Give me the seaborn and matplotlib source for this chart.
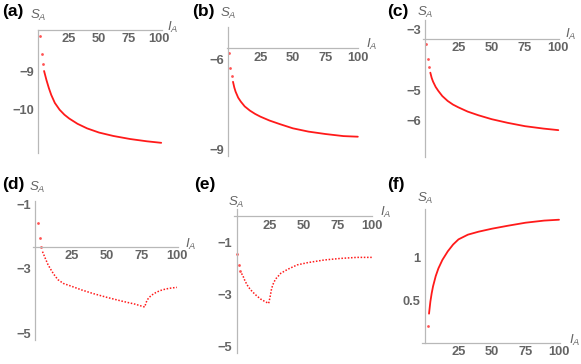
import matplotlib
matplotlib.use("Agg")
import matplotlib.pyplot as plt
import seaborn as sns

# ---------------- data ----------------
# (a)
a_dot_I = [1, 2, 3]
a_dot_S = [-8.07, -8.55, -8.82]
a_I = [4, 5, 6, 8, 10, 13, 17, 21, 25, 32, 40, 50, 62, 76, 90, 102]
a_S = [-9.00, -9.12, -9.24, -9.45, -9.63, -9.84, -10.02, -10.15, -10.25,
       -10.39, -10.51, -10.62, -10.71, -10.79, -10.85, -10.89]
# (b)
b_dot_I = [1, 2, 3]
b_dot_S = [-5.81, -6.29, -6.57]
b_I = [4, 5, 6, 8, 10, 13, 17, 21, 25, 32, 40, 50, 62, 75, 89, 100]
b_S = [-6.76, -6.95, -7.09, -7.29, -7.42, -7.58, -7.72, -7.83, -7.92,
       -8.05, -8.17, -8.31, -8.42, -8.50, -8.57, -8.59]
# (c)
c_dot_I = [1, 2, 3]
c_dot_S = [-3.50, -3.99, -4.25]
c_I = [4, 5, 6, 8, 10, 13, 17, 21, 25, 32, 40, 50, 62, 75, 89, 100]
c_S = [-4.43, -4.60, -4.72, -4.90, -5.03, -5.20, -5.36, -5.48, -5.57,
       -5.71, -5.83, -5.96, -6.08, -6.19, -6.27, -6.32]
# (d)
d_dot_I = [1, 2, 3]
d_dot_S = [-1.59, -2.06, -2.32]
d_I = [4, 6, 8, 10, 12, 15, 19, 25, 32, 40, 50, 60, 70, 77,
       78, 79, 80, 82, 85, 88, 92, 96, 100]
d_S = [-2.47, -2.68, -2.88, -3.03, -3.17, -3.34, -3.46, -3.55, -3.66, -3.77,
       -3.89, -4.00, -4.10, -4.19,
       -4.05, -3.96, -3.90, -3.82, -3.74, -3.68, -3.63, -3.60, -3.58]
# (e)
e_dot_I = [1, 2, 3]
e_dot_S = [-1.45, -1.87, -2.09]
e_I = [4, 5, 6, 8, 10, 12, 15, 18, 21, 24,
       25, 26, 27, 29, 33, 38, 45, 53, 65, 77, 89, 100]
e_S = [-2.20, -2.28, -2.42, -2.63, -2.78, -2.90, -3.05, -3.18, -3.27, -3.35,
       -3.12, -2.83, -2.64, -2.42, -2.19, -2.04, -1.87, -1.78, -1.68, -1.62,
       -1.58, -1.58]
# (f)
f_dot_I = [2]
f_dot_S = [0.19]
f_I = [3, 4, 5, 6, 8, 10, 13, 17, 21, 25, 32, 40, 50, 62, 75, 89, 100]
f_S = [0.34, 0.48, 0.58, 0.66, 0.78, 0.87, 0.97, 1.07, 1.15, 1.21, 1.265,
       1.30, 1.335, 1.37, 1.405, 1.43, 1.44]

x_ticks = [25, 50, 75, 100]
a_yticks = [-9, -10]
b_yticks = [-6, -9]
c_yticks = [-3, -5, -6]
d_yticks = [-1, -3, -5]
e_yticks = [-1, -3, -5]
f_yticks = [0.5, 1]
panel_tags = ["(a)", "(b)", "(c)", "(d)", "(e)", "(f)"]

# ---------------- style ----------------
sns.set_style("white")
plt.rcParams["font.family"] = ["Liberation Sans", "DejaVu Sans"]
plt.rcParams["mathtext.fontset"] = "custom"
plt.rcParams["mathtext.it"] = "Liberation Sans:italic"
plt.rcParams["mathtext.rm"] = "Liberation Sans"

W, H = 581, 364
fig = plt.figure(figsize=(W / 100, H / 100), dpi=100)

AXC = "#b8b8b8"
TXC = "#646464"
RED = "#ff1a1a"


def fmt(v):
    s = ("%g" % abs(v))
    return ("\u2212" + s) if v < 0 else s


# layout: (x0px, sx, yref, yref_px, sy, cross, ybot, ytop, xstart, xend,
#          yaxis_x, tag_xy, sa_xy, ia_xy, curve_style)
layout = [
    (39.3, 1.195, -9, 71.0, 38.0, -7.92, -11.16, -7.92, -1.5, 102.5, -0.8,
     (2, 11.5), (38.5, 15), (173, 27), "solid"),
    (227.8, 1.300, -6, 59.0, 30.0, -5.64, -9.23, -4.92, -1.0, 100.5, 0.4,
     (192, 11.5), (228.5, 13), (371.5, 44.5), "solid"),
    (425.0, 1.333, -5, 90.0, 30.4, -3.32, -7.19, -2.70, -1.5, 100.5, 0.0,
     (387, 11.5), (425, 12.5), (571, 34.5), "solid"),
    (36.9, 1.40, -1, 204.3, 32.2, -2.32, -5.21, -0.89, -2.5, 100.5, -1.4,
     (2, 185), (37.5, 187), (190.5, 244), "dots"),
    (236.1, 1.356, -1, 242.3, 26.0, 0.0, -5.25, 0.27, -1.5, 100.5, 0.4,
     (194, 185), (236.5, 202), (386, 212.5), "dots"),
    (425.0, 1.34, 1, 257.3, 85.4, 0.0, 0.0, 1.56, -2.5, 100.5, 0.0,
     (387, 185), (425.5, 198), (574.5, 340), "solid"),
]

panels = [
    (a_dot_I, a_dot_S, a_I, a_S, a_yticks),
    (b_dot_I, b_dot_S, b_I, b_S, b_yticks),
    (c_dot_I, c_dot_S, c_I, c_S, c_yticks),
    (d_dot_I, d_dot_S, d_I, d_S, d_yticks),
    (e_dot_I, e_dot_S, e_I, e_S, e_yticks),
    (f_dot_I, f_dot_S, f_I, f_S, f_yticks),
]

for k, ((dI, dS, cI, cS, yt), lay) in enumerate(zip(panels, layout)):
    (x0, sx, yref, yref_px, sy, cross, ybot, ytop, xstart, xend, yax,
     tag_xy, sa_xy, ia_xy, style) = lay
    xlim = (-6, 106)
    ylim = (ybot - 6 / sy, ytop + 6 / sy)
    left = x0 + xlim[0] * sx
    right = x0 + xlim[1] * sx
    top = yref_px - (ylim[1] - yref) * sy
    bot = yref_px + (yref - ylim[0]) * sy
    ax = fig.add_axes([left / W, 1 - bot / H, (right - left) / W, (bot - top) / H])
    ax.set_facecolor("none")
    ax.set_xlim(*xlim)
    ax.set_ylim(*ylim)

    if style == "solid":
        sns.lineplot(x=cI, y=cS, ax=ax, color=RED, linewidth=1.3)
    else:
        sns.lineplot(x=cI, y=cS, ax=ax, color=RED, linewidth=1.1,
                     linestyle=(0, (1, 1.1)))
    sns.scatterplot(x=dI, y=dS, ax=ax, color=RED, s=4, linewidth=0, alpha=0.75)

    for sp in ("top", "right"):
        ax.spines[sp].set_visible(False)
    ax.spines["left"].set_position(("data", yax))
    ax.spines["bottom"].set_position(("data", cross))
    ax.spines["left"].set_bounds(ybot, ytop)
    ax.spines["bottom"].set_bounds(xstart, xend)
    for sp in ("left", "bottom"):
        ax.spines[sp].set_color(AXC)
        ax.spines[sp].set_linewidth(0.9)

    ax.set_xticks(x_ticks)
    ax.set_xticklabels([str(t) for t in x_ticks])
    ax.set_yticks(yt)
    ax.set_yticklabels([fmt(t) for t in yt])
    ax.tick_params(axis="both", direction="in", length=2.5, width=0.7,
                   color=AXC, labelsize=9.3, labelcolor=TXC)
    ax.tick_params(axis="x", pad=2.5)
    ax.tick_params(axis="y", pad=3)
    for lab in ax.get_xticklabels() + ax.get_yticklabels():
        lab.set_fontweight("bold")
    ax.set_xlabel("")
    ax.set_ylabel("")

    fig.text(tag_xy[0] / W, 1 - tag_xy[1] / H, panel_tags[k], ha="left",
             va="center", fontsize=12.5, fontweight="bold", color="black")
    fig.text(sa_xy[0] / W, 1 - sa_xy[1] / H, r"$S_A$", ha="center",
             va="center", fontsize=9.5, color=TXC)
    fig.text(ia_xy[0] / W, 1 - ia_xy[1] / H, r"$I_A$", ha="center",
             va="center", fontsize=9.5, color=TXC)

fig.savefig("out.png", dpi=100)
